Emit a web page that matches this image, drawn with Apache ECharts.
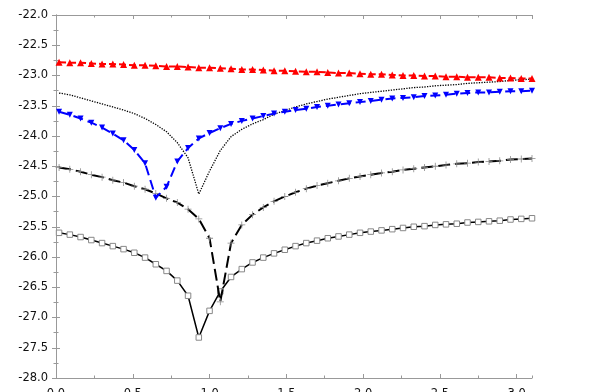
<!DOCTYPE html>
<html>
<head>
<meta charset="utf-8">
<script src="https://cdn.jsdelivr.net/npm/echarts@6/dist/echarts.min.js"></script>
<style>html,body{margin:0;padding:0;background:#fff;}#c{width:589px;height:392px;}</style>
</head>
<body>
<div id="c"></div>
<script>
var xs = [0.02,0.09,0.16,0.23,0.30,0.37,0.44,0.51,0.58,0.65,0.72,0.79,0.86,0.93,1.00,1.07,1.14,1.21,1.28,1.35,1.42,1.49,1.56,1.63,1.70,1.77,1.84,1.91,1.98,2.05,2.12,2.19,2.26,2.33,2.40,2.47,2.54,2.61,2.68,2.75,2.82,2.89,2.96,3.03,3.10];
var redVals = [-22.78,-22.79,-22.79,-22.80,-22.81,-22.81,-22.82,-22.83,-22.83,-22.84,-22.85,-22.85,-22.86,-22.87,-22.87,-22.88,-22.89,-22.90,-22.90,-22.91,-22.92,-22.92,-22.93,-22.94,-22.94,-22.95,-22.96,-22.96,-22.97,-22.98,-22.98,-22.99,-23.00,-23.00,-23.01,-23.01,-23.02,-23.02,-23.03,-23.03,-23.03,-23.04,-23.04,-23.05,-23.05];
var blueVals = [-23.60,-23.65,-23.71,-23.78,-23.86,-23.96,-24.07,-24.23,-24.45,-25.02,-24.84,-24.42,-24.20,-24.04,-23.95,-23.87,-23.80,-23.75,-23.71,-23.67,-23.63,-23.60,-23.57,-23.55,-23.52,-23.50,-23.48,-23.46,-23.44,-23.42,-23.40,-23.38,-23.37,-23.36,-23.34,-23.33,-23.32,-23.30,-23.29,-23.28,-23.28,-23.27,-23.26,-23.26,-23.25];
var dottedVals = [-23.29,-23.32,-23.37,-23.42,-23.47,-23.52,-23.57,-23.63,-23.71,-23.81,-23.93,-24.11,-24.36,-24.96,-24.58,-24.24,-24.01,-23.89,-23.80,-23.73,-23.64,-23.58,-23.52,-23.47,-23.43,-23.39,-23.36,-23.33,-23.30,-23.28,-23.26,-23.24,-23.22,-23.20,-23.19,-23.17,-23.16,-23.15,-23.13,-23.12,-23.11,-23.10,-23.08,-23.07,-23.06];
var dashedVals = [-24.52,-24.55,-24.59,-24.64,-24.68,-24.73,-24.77,-24.83,-24.88,-24.95,-25.03,-25.10,-25.21,-25.37,-25.69,-26.74,-25.77,-25.47,-25.30,-25.18,-25.08,-25.00,-24.93,-24.87,-24.82,-24.78,-24.74,-24.70,-24.67,-24.64,-24.61,-24.59,-24.56,-24.54,-24.52,-24.50,-24.48,-24.46,-24.45,-24.43,-24.42,-24.41,-24.39,-24.38,-24.37];
var squareVals = [-25.60,-25.63,-25.67,-25.72,-25.77,-25.82,-25.87,-25.93,-26.01,-26.12,-26.23,-26.39,-26.64,-27.33,-26.89,-26.57,-26.33,-26.20,-26.09,-26.01,-25.94,-25.88,-25.82,-25.77,-25.73,-25.69,-25.66,-25.63,-25.60,-25.58,-25.56,-25.54,-25.52,-25.50,-25.49,-25.47,-25.46,-25.45,-25.43,-25.42,-25.41,-25.40,-25.38,-25.37,-25.36];
var xMajor = 0.5, xMinor = 0.25, xMin = 0, xMax = 3.1;
var yMajor = 0.5, yMin = -28, yMax = -22;

function pairs(v){ return xs.map(function(x,i){ return [x, v[i]]; }); }

var axisColor = '#999';
var labelStyle = {color:'#111', fontSize:11.5, fontFamily:'DejaVu Sans'};

function xAx(pos, interval, len, labels, line){
  return {
    type:'value', position:pos, min:xMin, max:xMax, interval:interval,
    axisLine:{show:line, lineStyle:{color:axisColor, width:1}},
    axisTick:{show:true, inside:true, length:len, lineStyle:{color:axisColor}},
    axisLabel: labels ? Object.assign({show:true, margin:10, showMaxLabel:false, formatter:function(v){return v.toFixed(1);}}, labelStyle) : {show:false},
    splitLine:{show:false}
  };
}
function yAx(pos, labels){
  return {
    type:'value', position:pos, min:yMin, max:yMax, interval:yMajor,
    axisLine:{show:true, lineStyle:{color:axisColor, width:1}},
    axisTick:{show:true, inside:true, length:4, lineStyle:{color:axisColor}},
    minorTick:{show:true, splitNumber:2, length:2.5, lineStyle:{color:axisColor}},
    axisLabel: labels ? Object.assign({show:true, margin:8, formatter:function(v){return v.toFixed(1);}}, labelStyle) : {show:false},
    splitLine:{show:false}
  };
}

var chart = echarts.init(document.getElementById('c'), null, {renderer:'canvas'});
chart.setOption({
  animation:false,
  backgroundColor:'#fff',
  grid:{left:56, right:57, top:15, bottom:14, containLabel:false, outerBoundsMode:'none'},
  xAxis:[ xAx('bottom', xMajor, 4, true, true), xAx('bottom', xMinor, 2.5, false, false),
          xAx('top', xMajor, 4, false, true), xAx('top', xMinor, 2.5, false, false) ],
  yAxis:[ yAx('left', true), yAx('right', false) ],
  series:[
    {type:'line', xAxisIndex:0, yAxisIndex:0, data:pairs(squareVals), symbol:'rect', symbolSize:5.5,
     lineStyle:{color:'#000', width:1.5, type:'solid'}, itemStyle:{color:'#fff', borderColor:'#888', borderWidth:1}, z:2},
    {type:'line', xAxisIndex:0, yAxisIndex:0, data:pairs(dashedVals), symbol:'path://M4,0h1v4h4v1h-4v4h-1v-4h-4v-1h4z', symbolSize:7,
     lineStyle:{color:'#000', width:2, type:[12,5]}, itemStyle:{color:'#888'}, z:3},
    {type:'line', xAxisIndex:0, yAxisIndex:0, data:pairs(dottedVals), showSymbol:false, symbol:'none',
     lineStyle:{color:'#000', width:1.3, type:[1.3,1.3]}, z:4},
    {type:'line', xAxisIndex:0, yAxisIndex:0, data:pairs(blueVals), symbol:'triangle', symbolRotate:180, symbolSize:6,
     lineStyle:{color:'#0000ff', width:2, type:[10,5]}, itemStyle:{color:'#0000ff'}, z:5},
    {type:'line', xAxisIndex:0, yAxisIndex:0, data:pairs(redVals), symbol:'triangle', symbolSize:7,
     lineStyle:{color:'#ff0000', width:2, type:[7,3]}, itemStyle:{color:'#ff0000'}, z:6}
  ]
});
</script>
</body>
</html>
